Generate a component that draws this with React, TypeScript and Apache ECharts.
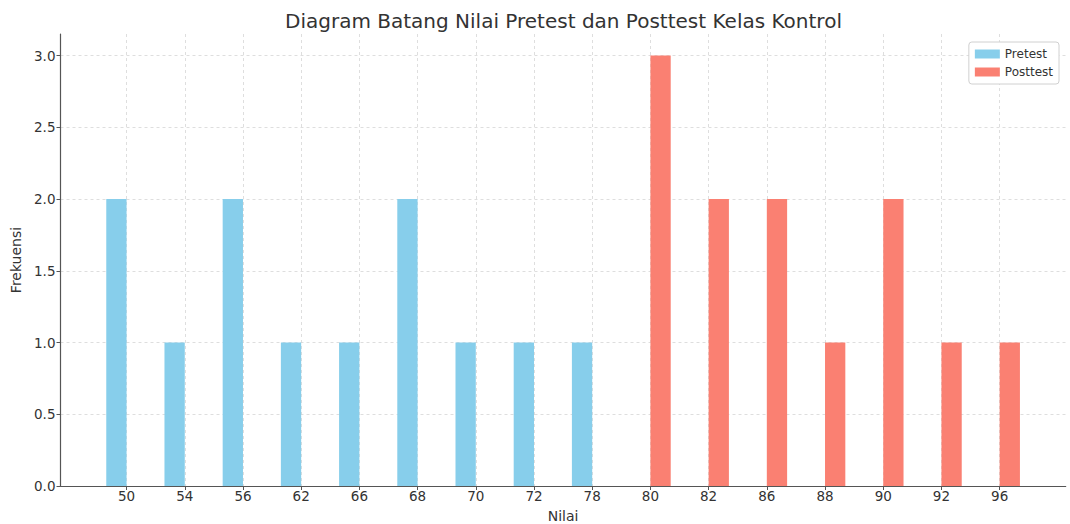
import React, { useEffect, useRef } from "react";
import * as echarts from "echarts";

const categories = ["50", "54", "56", "62", "66", "68", "70", "72", "78", "80", "82", "86", "88", "90", "92", "96"];
const pretest = [2, 1, 2, 1, 1, 2, 1, 1, 1, 0, 0, 0, 0, 0, 0, 0];
const posttest = [0, 0, 0, 0, 0, 0, 0, 0, 0, 3, 2, 2, 1, 2, 1, 1];
const yTicks = [0, 0.5, 1, 1.5, 2, 2.5, 3];

const FONT = "DejaVu Sans";

export default function App() {
  const ref = useRef<HTMLDivElement>(null);
  useEffect(() => {
    if (!ref.current) return;
    const chart = echarts.init(ref.current, null, { renderer: "svg" });
    const idx = categories.map((_, i) => i);
    const n = categories.length;
    const pad = 0.35 + (n - 1 + 0.7) * 0.05;
    chart.setOption({
      animation: false,
      backgroundColor: "#ffffff",
      title: {
        text: "Diagram Batang Nilai Pretest dan Posttest Kelas Kontrol",
        left: 558.5,
        textAlign: "center",
        top: 6,
        textStyle: { fontFamily: FONT, fontSize: 20, fontWeight: "normal", color: "#333" },
      },
      legend: {
        orient: "vertical",
        right: 11,
        top: 42,
        itemWidth: 25,
        itemHeight: 9,
        itemGap: 6,
        icon: "rect",
        padding: [6, 6, 6, 6],
        borderColor: "#d0d0d0",
        borderWidth: 1,
        borderRadius: 3,
        backgroundColor: "#fff",
        textStyle: { fontFamily: FONT, fontSize: 12, color: "#333" },
        data: ["Pretest", "Posttest"],
      },
      grid: { left: 60.5, right: 4.3, top: 34, bottom: 38, containLabel: false, outerBoundsMode: "none" },
      xAxis: {
        type: "value",
        min: -pad,
        max: n - 1 + pad,
        name: "Nilai",
        nameLocation: "middle",
        nameGap: 23,
        nameTextStyle: { fontFamily: FONT, fontSize: 14, color: "#333" },
        axisLine: { onZero: false, lineStyle: { color: "#555", width: 1.2 } },
        axisTick: { show: true, length: 4, lineStyle: { color: "#555" }, customValues: idx },
        axisLabel: {
          customValues: idx,
          fontFamily: FONT,
          fontSize: 13.5,
          color: "#333",
          margin: 3,
          formatter: (v: number) => categories[Math.round(v)] ?? "",
        },
        splitLine: { show: true, lineStyle: { color: "#d6d6d6", type: [3, 3], width: 0.8 } },
      },
      yAxis: {
        type: "value",
        min: 0,
        max: 3.15,
        name: "Frekuensi",
        nameLocation: "middle",
        nameGap: 35,
        nameRotate: 90,
        nameTextStyle: { fontFamily: FONT, fontSize: 14, color: "#333" },
        axisLine: { show: true, onZero: false, lineStyle: { color: "#555", width: 1.2 } },
        axisTick: { show: true, length: 4, lineStyle: { color: "#555" }, customValues: yTicks },
        axisLabel: {
          customValues: yTicks,
          fontFamily: FONT,
          fontSize: 13.5,
          color: "#333",
          margin: 5,
          formatter: (v: number) => v.toFixed(1),
        },
        splitLine: { show: true, lineStyle: { color: "#d6d6d6", type: [3, 3], width: 0.8 } },
      },
      series: [
        {
          name: "Pretest",
          type: "bar",
          data: idx.map((i) => [i, pretest[i]]),
          barWidth: 20.3,
          barGap: "0%",
          itemStyle: { color: "#87CEEB" },
        },
        {
          name: "Posttest",
          type: "bar",
          data: idx.map((i) => [i, posttest[i]]),
          barWidth: 20.3,
          barGap: "0%",
          itemStyle: { color: "#FA8072" },
        },
      ],
    });
    return () => chart.dispose();
  }, []);
  return (
    <div
      ref={ref}
      style={{ position: "fixed", left: 0, top: 0, width: 1070, height: 524, background: "#fff" }}
    />
  );
}
